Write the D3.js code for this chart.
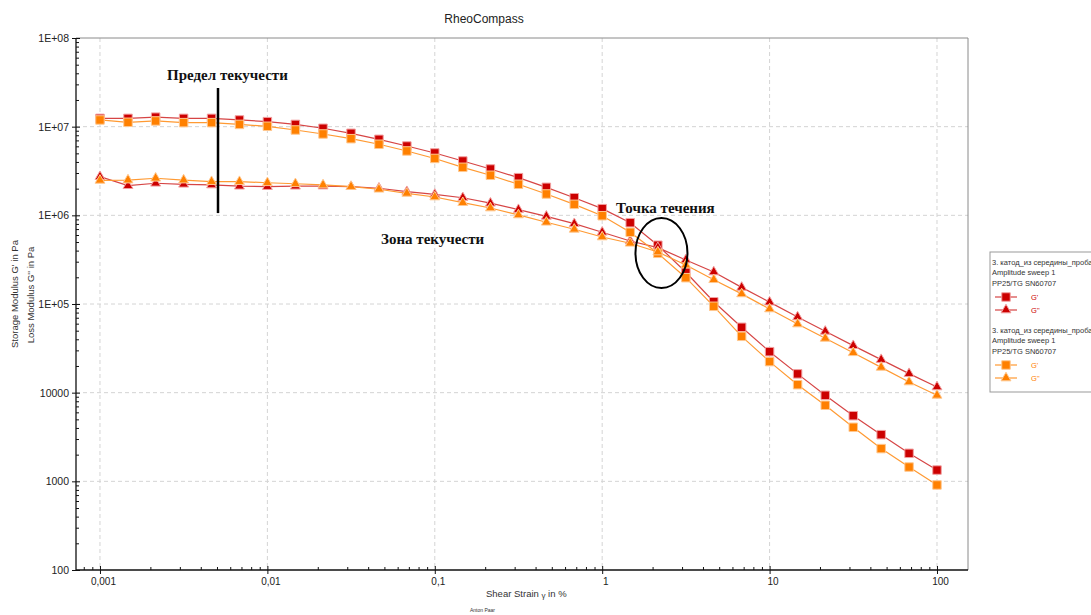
<!DOCTYPE html>
<html>
<head>
<meta charset="utf-8">
<script src="https://cdn.jsdelivr.net/npm/d3@7"></script>
<style>
body{margin:0;background:#fff;}
svg{display:block;font-family:"Liberation Sans",Arial,sans-serif;}
</style>
</head>
<body>
<div id="chart"></div>
<script>
// shear strain, %
var strain = [0.001,0.00147,0.00215,0.00316,0.00464,0.00681,0.01,0.0147,0.0215,0.0316,0.0464,0.0681,
	0.1,0.147,0.215,0.316,0.464,0.681,1,1.47,2.15,3.16,4.64,6.81,10,14.7,21.5,31.6,46.4,68.1,100];

// probe 1 (red)
var gStorage1 = [1.24e7,1.24e7,1.28e7,1.24e7,1.24e7,1.19e7,1.14e7,1.06e7,9.59e6,8.42e6,7.20e6,6.05e6,
	5.05e6,4.10e6,3.33e6,2.66e6,2.07e6,1.58e6,1.19e6,8.26e5,4.60e5,2.28e5,1.06e5,5.46e4,2.90e4,1.63e4,
	9.34e3,5.50e3,3.36e3,2.07e3,1.34e3];
var gLoss1 = [2.73e6,2.16e6,2.30e6,2.24e6,2.20e6,2.13e6,2.11e6,2.13e6,2.14e6,2.11e6,2.02e6,1.85e6,
	1.72e6,1.58e6,1.37e6,1.16e6,9.75e5,8.05e5,6.44e5,5.14e5,4.32e5,3.14e5,2.30e5,1.54e5,1.05e5,7.14e4,
	4.92e4,3.39e4,2.36e4,1.64e4,1.16e4];

// probe 2 (orange)
var gStorage2 = [1.19e7,1.12e7,1.16e7,1.11e7,1.11e7,1.06e7,1.01e7,9.17e6,8.27e6,7.32e6,6.33e6,5.32e6,
	4.38e6,3.48e6,2.83e6,2.24e6,1.74e6,1.33e6,9.9e5,6.44e5,3.73e5,1.98e5,9.42e4,4.32e4,2.24e4,1.23e4,
	7.21e3,4.07e3,2.34e3,1.45e3,910];
var gLoss2 = [2.48e6,2.50e6,2.62e6,2.50e6,2.40e6,2.40e6,2.33e6,2.27e6,2.20e6,2.11e6,1.97e6,1.77e6,
	1.61e6,1.39e6,1.21e6,1.01e6,8.35e5,6.96e5,5.70e5,4.84e5,3.86e5,2.75e5,1.88e5,1.30e5,8.79e4,5.95e4,
	4.10e4,2.82e4,1.93e4,1.32e4,9.34e3];

var xTickValues = [0.001,0.01,0.1,1,10,100];
var xTickLabels = ["0,001","0,01","0,1","1","10","100"];
var yTickValues = [1e8,1e7,1e6,1e5,1e4,1e3,100];
var yTickLabels = ["1E+08","1E+07","1E+06","1E+05","10000","1000","100"];

var legendHeader = ["3. катод_из середины_проба","Amplitude sweep 1","PP25/TG SN60707"];
var seriesNames = ["G'","G''"];

var W = 1091, H = 615;
var pLeft = 76, pRight = 968, pTop = 38, pBottom = 570;

var svg = d3.select("#chart").append("svg")
	.attr("width", W)
	.attr("height", H);

var x = d3.scaleLog().domain([0.000719, 153.2]).range([pLeft, pRight]);
var y = d3.scaleLog().domain([100, 1e8]).range([pBottom, pTop]);

// minor tick positions (2..9 of every decade inside the domain)
var xMinor = [], yMinor = [];
for(var d = -4; d <= 2; d++){
	for(var k = 2; k <= 9; k++){
		var v = k * Math.pow(10, d);
		if(v > x.domain()[0] && v < x.domain()[1]) xMinor.push(v);
	}
}
for(var d2 = 2; d2 < 8; d2++){
	for(var k2 = 2; k2 <= 9; k2++){
		yMinor.push(k2 * Math.pow(10, d2));
	}
}

// grid
var grid = svg.append("g").attr("stroke", "#d4d4d4").attr("stroke-dasharray", "4,3");
grid.selectAll(".gx").data(xTickValues).enter().append("line")
	.attr("x1", function(d){ return x(d); })
	.attr("x2", function(d){ return x(d); })
	.attr("y1", pTop).attr("y2", pBottom);
grid.selectAll(".gy").data(yTickValues.slice(1, -1)).enter().append("line")
	.attr("y1", function(d){ return y(d); })
	.attr("y2", function(d){ return y(d); })
	.attr("x1", pLeft).attr("x2", pRight);

// frame top / right
svg.append("path")
	.attr("d", "M" + pLeft + "," + pTop + "H" + pRight + "V" + pBottom)
	.attr("fill", "none")
	.attr("stroke", "#8a8a8a");

// y axis
var yAxis = svg.append("g")
	.attr("transform", "translate(" + pLeft + ",0)")
	.call(d3.axisLeft(y).tickValues(yTickValues)
		.tickFormat(function(d, i){ return yTickLabels[i]; })
		.tickSize(4).tickPadding(3));
yAxis.select(".domain").remove();
yAxis.selectAll("text").attr("font-size", 10.5).attr("fill", "#222").attr("font-family", "Liberation Sans, Arial");
var yIn = svg.append("g")
	.attr("transform", "translate(" + pLeft + ",0)")
	.call(d3.axisRight(y).tickValues(yTickValues).tickSize(4).tickFormat(""));
yIn.select(".domain").remove();
var yMin = svg.append("g")
	.attr("transform", "translate(" + pLeft + ",0)")
	.call(d3.axisRight(y).tickValues(yMinor).tickSize(3).tickFormat(""));
yMin.select(".domain").remove();

// x axis
var xAxis = svg.append("g")
	.attr("transform", "translate(0," + pBottom + ")")
	.call(d3.axisBottom(x).tickValues(xTickValues)
		.tickFormat(function(d, i){ return xTickLabels[i]; })
		.tickSize(4).tickPadding(4));
xAxis.select(".domain").remove();
xAxis.selectAll("text").attr("font-size", 10).attr("fill", "#222").attr("dx", 3).attr("font-family", "Liberation Sans, Arial");
var xIn = svg.append("g")
	.attr("transform", "translate(0," + pBottom + ")")
	.call(d3.axisTop(x).tickValues(xTickValues).tickSize(4).tickFormat(""));
xIn.select(".domain").remove();
var xMin = svg.append("g")
	.attr("transform", "translate(0," + pBottom + ")")
	.call(d3.axisTop(x).tickValues(xMinor).tickSize(3).tickFormat(""));
xMin.select(".domain").remove();

svg.selectAll(".tick line").attr("stroke", "#111");

// axis lines
svg.append("path")
	.attr("d", "M" + pLeft + "," + pTop + "V" + pBottom + "H" + pRight)
	.attr("fill", "none")
	.attr("stroke", "#111")
	.attr("stroke-width", 1.3);

// titles
svg.append("text")
	.attr("x", 484).attr("y", 23)
	.attr("text-anchor", "middle")
	.attr("font-size", 12)
	.attr("fill", "#222")
	.text("RheoCompass");

svg.append("text")
	.attr("transform", "translate(18,294) rotate(-90)")
	.attr("text-anchor", "middle")
	.attr("font-size", 9.5)
	.attr("fill", "#333")
	.text("Storage Modulus G' in Pa");
svg.append("text")
	.attr("transform", "translate(34,295) rotate(-90)")
	.attr("text-anchor", "middle")
	.attr("font-size", 9.5)
	.attr("fill", "#333")
	.text("Loss Modulus G'' in Pa");

var xt = svg.append("text")
	.attr("x", 486).attr("y", 597)
	.attr("font-size", 9.5)
	.attr("fill", "#333");
xt.append("tspan").text("Shear Strain ");
xt.append("tspan").attr("font-size", 8).attr("dy", 1).text("γ");
xt.append("tspan").attr("dy", -1).text("  in %");

svg.append("text")
	.attr("x", 470).attr("y", 612)
	.attr("font-size", 5)
	.attr("fill", "#333")
	.text("Anton Paar");

// series
var series = [
	{ values: gStorage1, color: "#cc0000", line: "#d64545", halo: "#f2a0a0", shape: d3.symbolSquare, size: 72 },
	{ values: gLoss1, color: "#cc0000", line: "#d64545", halo: "#f2a0a0", shape: d3.symbolTriangle, size: 42 },
	{ values: gStorage2, color: "#ff8000", line: "#ff9a33", halo: "#ffc890", shape: d3.symbolSquare, size: 72 },
	{ values: gLoss2, color: "#ff8000", line: "#ff9a33", halo: "#ffc890", shape: d3.symbolTriangle, size: 42 }
];

var line = d3.line()
	.x(function(d){ return x(d[0]); })
	.y(function(d){ return y(d[1]); });

series.forEach(function(s){
	var pts = strain.map(function(v, i){ return [v, s.values[i]]; });
	svg.append("path")
		.datum(pts)
		.attr("d", line)
		.attr("fill", "none")
		.attr("stroke", s.line)
		.attr("stroke-width", 1.2);
	svg.append("g").selectAll("path").data(pts).enter().append("path")
		.attr("transform", function(d){ return "translate(" + x(d[0]) + "," + y(d[1]) + ")"; })
		.attr("d", d3.symbol().type(s.shape).size(s.size))
		.attr("fill", s.color)
		.attr("stroke", s.halo)
		.attr("stroke-width", 1);
});

// annotations
var serif = "Liberation Serif, Times New Roman, serif";
svg.append("text")
	.attr("x", 167).attr("y", 80)
	.attr("font-family", serif).attr("font-weight", "bold").attr("font-size", 15)
	.attr("fill", "#111")
	.text("Предел текучести");
svg.append("line")
	.attr("x1", x(0.00507)).attr("x2", x(0.00507))
	.attr("y1", y(2.73e7)).attr("y2", y(1.06e6))
	.attr("stroke", "#000").attr("stroke-width", 2.5);
svg.append("text")
	.attr("x", 616).attr("y", 213)
	.attr("font-family", serif).attr("font-weight", "bold").attr("font-size", 15)
	.attr("fill", "#111")
	.text("Точка течения");
svg.append("text")
	.attr("x", 381).attr("y", 244)
	.attr("font-family", serif).attr("font-weight", "bold").attr("font-size", 15)
	.attr("fill", "#111")
	.text("Зона текучести");
svg.append("ellipse")
	.attr("cx", x(2.26)).attr("cy", y(3.76e5))
	.attr("rx", 26).attr("ry", 35)
	.attr("fill", "none")
	.attr("stroke", "#000").attr("stroke-width", 2);

// legend
var lg = svg.append("g");
lg.append("rect")
	.attr("x", 990).attr("y", 252)
	.attr("width", 130).attr("height", 140)
	.attr("fill", "#fff")
	.attr("stroke", "#999");

var groups = [
	{ top: 265, items: [series[0], series[1]] },
	{ top: 333, items: [series[2], series[3]] }
];
groups.forEach(function(g){
	legendHeader.forEach(function(t, i){
		lg.append("text")
			.attr("x", 992).attr("y", g.top + i * 10.3)
			.attr("font-size", 7.5)
			.attr("fill", "#333")
			.text(t);
	});
	g.items.forEach(function(s, i){
		var yy = g.top + 32 + i * 13;
		lg.append("line")
			.attr("x1", 995).attr("x2", 1017)
			.attr("y1", yy).attr("y2", yy)
			.attr("stroke", s.line).attr("stroke-width", 1.2);
		lg.append("path")
			.attr("transform", "translate(1006," + yy + ")")
			.attr("d", d3.symbol().type(s.shape).size(s.size))
			.attr("fill", s.color)
			.attr("stroke", s.halo);
		lg.append("text")
			.attr("x", 1031).attr("y", yy + 3)
			.attr("font-size", 7.5)
			.attr("fill", s.color)
			.text(seriesNames[i]);
	});
});
</script>
</body>
</html>
